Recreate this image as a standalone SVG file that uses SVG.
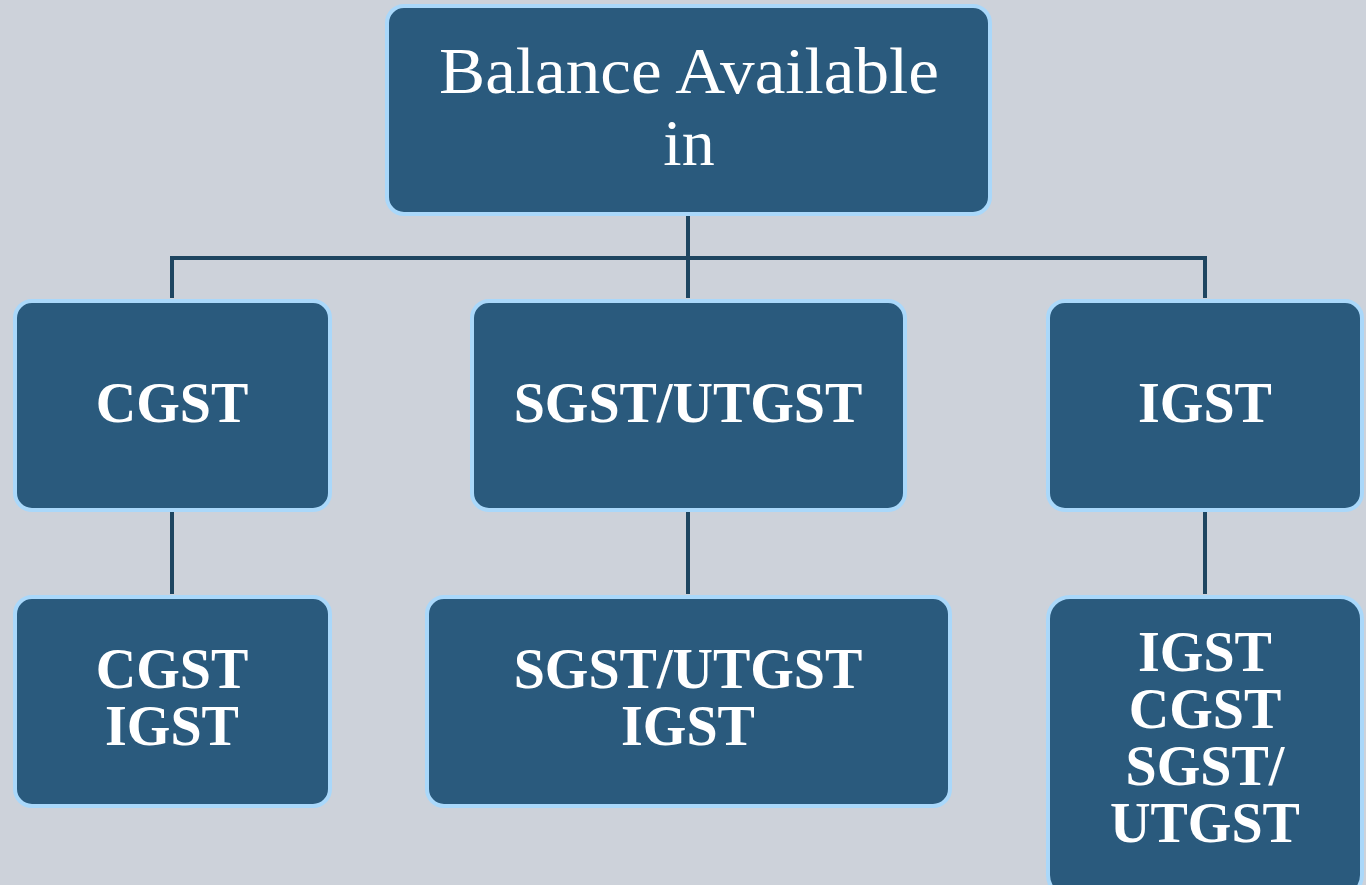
<svg xmlns="http://www.w3.org/2000/svg" width="1366" height="885" viewBox="0 0 1366 885">
<style>
.box{fill:#2A5A7D;stroke:#AAD8FA;stroke-width:4}
.t{fill:#FFFFFF;font-family:"Liberation Serif","Times New Roman",serif;text-anchor:middle}
.b{font-weight:bold;font-size:56px}
.r{font-size:66px}
.c{fill:none;stroke:#1E4560;stroke-width:4}
</style>
<rect width="1366" height="885" fill="#CDD2DA"/>
<g id="connectors">
<path class="c" d="M688 214 V258 M172 298 V258 H1205 V298 M688 258 V298"/>
<path class="c" d="M172 510 V594 M688 510 V594 M1205 510 V594"/>
</g>
<g id="root">
<rect class="box" x="387" y="6" width="603" height="208" rx="17"/>
<text class="t r" x="689" y="93" textLength="500" lengthAdjust="spacingAndGlyphs">Balance Available</text>
<text class="t r" x="689" y="165">in</text>
</g>
<g id="cgst">
<rect class="box" x="15" y="301" width="315" height="209" rx="17"/>
<text class="t b" x="172" y="422">CGST</text>
</g>
<g id="sgst">
<rect class="box" x="472" y="301" width="433" height="209" rx="17"/>
<text class="t b" x="688" y="422">SGST/UTGST</text>
</g>
<g id="igst">
<rect class="box" x="1048" y="301" width="314" height="209" rx="17"/>
<text class="t b" x="1205" y="422">IGST</text>
</g>
<g id="cgst-set">
<rect class="box" x="15" y="597" width="315" height="209" rx="17"/>
<text class="t b" x="172" y="688">CGST</text>
<text class="t b" x="172" y="745">IGST</text>
</g>
<g id="sgst-set">
<rect class="box" x="427" y="597" width="523" height="209" rx="17"/>
<text class="t b" x="688" y="688">SGST/UTGST</text>
<text class="t b" x="688" y="745">IGST</text>
</g>
<g id="igst-set">
<rect class="box" x="1048" y="597" width="314" height="300" rx="22"/>
<text class="t b" x="1205" y="671">IGST</text>
<text class="t b" x="1205" y="728">CGST</text>
<text class="t b" x="1205" y="785">SGST/</text>
<text class="t b" x="1205" y="842">UTGST</text>
</g>
</svg>
